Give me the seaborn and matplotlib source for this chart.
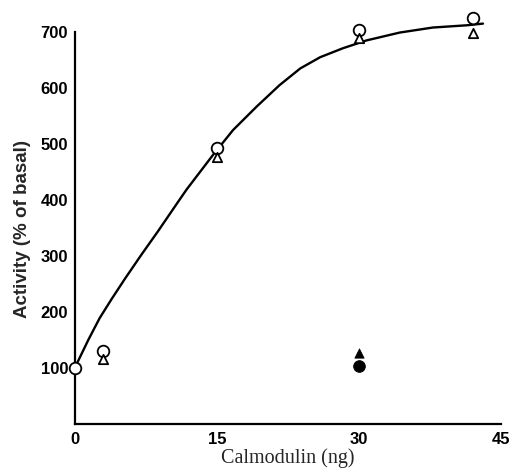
import pandas as pd
import matplotlib
matplotlib.use('Agg')
import matplotlib.pyplot as plt
import seaborn as sns

# open symbols
circle_x = [0, 3, 15, 30, 42]
circle_y = [100, 130, 492, 703, 725]
triangle_x = [3, 15, 30, 42]
triangle_y = [116, 476, 690, 698]

# filled symbols
filled_circle_x = [30]
filled_circle_y = [104]
filled_triangle_x = [30]
filled_triangle_y = [126]

# fitted curve
curve_x = [0, 0.2, 1.4, 2.6, 3.9, 5.3, 7.0, 8.8, 10.9, 11.8, 13.2, 14.6, 16.7, 19.2,
           21.6, 23.8, 25.9, 28.3, 30.8, 34.3, 37.8, 41.4, 43.1]
curve_y = [100, 108, 150, 189, 224, 260, 302, 345, 397, 419, 450, 481, 525, 567,
           605, 635, 655, 671, 685, 699, 708, 712, 715]

x_ticks = [0, 15, 30, 45]
y_ticks = [100, 200, 300, 400, 500, 600, 700]

sns.set_style('white')
plt.rcParams['font.family'] = ['Liberation Sans', 'DejaVu Sans']

fig = plt.figure(figsize=(5.11, 4.70), dpi=100)
ax = fig.add_axes([0.1468, 0.0979, 0.8336, 0.8757])

curve = pd.DataFrame({'x': curve_x, 'y': curve_y})
sns.lineplot(data=curve, x='x', y='y', color='black', lw=1.7, ax=ax, sort=False)

sns.scatterplot(x=circle_x, y=circle_y, marker='o', s=70, facecolor='white',
                edgecolor='black', linewidth=1.3, ax=ax, clip_on=False, zorder=3)
sns.scatterplot(x=triangle_x, y=triangle_y, marker='^', s=45, facecolor='white',
                edgecolor='black', linewidth=1.3, ax=ax, clip_on=False, zorder=3)
sns.scatterplot(x=filled_circle_x, y=filled_circle_y, marker='o', s=70, color='black',
                edgecolor='black', ax=ax, zorder=3)
sns.scatterplot(x=filled_triangle_x, y=filled_triangle_y, marker='^', s=45, color='black',
                edgecolor='black', ax=ax, zorder=3)

ax.set_xlim(0, 45)
ax.set_ylim(0, 735)
ax.set_xticks(x_ticks)
ax.set_xticklabels([str(t) for t in x_ticks])
ax.set_yticks(y_ticks)
ax.set_yticklabels([str(t) for t in y_ticks])

for side in ['top', 'right']:
    ax.spines[side].set_visible(False)
for side in ['left', 'bottom']:
    ax.spines[side].set_linewidth(1.6)
    ax.spines[side].set_color('black')
ax.spines['left'].set_bounds(0, 700)
ax.spines['bottom'].set_bounds(0, 45)

ax.tick_params(axis='both', direction='in', length=7, width=1.6, colors='black',
               labelsize=12, pad=5)
ax.tick_params(axis='x', pad=6)
for lab in ax.get_xticklabels() + ax.get_yticklabels():
    lab.set_fontweight('bold')

ax.set_xlabel('Calmodulin (ng)', family=['Liberation Serif'], fontsize=14.5, labelpad=1)
ax.set_ylabel('Activity (% of basal)', fontsize=13.5, fontweight='bold')
ax.yaxis.set_label_coords(-0.104, 0.474)

fig.savefig('out.png', dpi=100)
